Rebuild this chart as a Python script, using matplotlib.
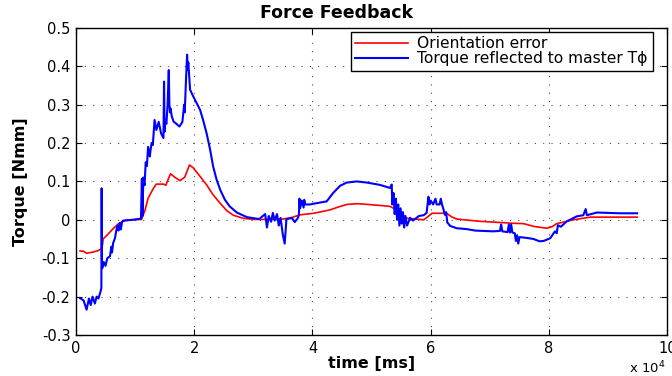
import matplotlib.pyplot as plt
from matplotlib.ticker import FuncFormatter

plt.rcParams['font.family'] = ['DejaVu Sans']

# (time [ms], torque)
red_pts = [(700, -0.081), (1300, -0.082), (1800, -0.087), (2900, -0.084),
           (3800, -0.080), (4300, -0.075), (4500, -0.065), (4600, -0.050),
           (5500, -0.036), (6300, -0.023), (7200, -0.010), (8300, -0.002),
           (9500, 0.0), (11100, 0.001), (11700, 0.026), (12200, 0.056),
           (13100, 0.082), (13600, 0.093), (14800, 0.093), (15200, 0.090),
           (15400, 0.098), (16000, 0.120), (16700, 0.111), (17600, 0.102),
           (18400, 0.111), (19200, 0.143), (19850, 0.135), (21000, 0.113),
           (22100, 0.091), (23200, 0.065), (24400, 0.043), (25500, 0.024),
           (26600, 0.012), (28300, 0.004), (30000, 0.001), (32000, 0.001),
           (35000, 0.002), (36500, 0.006), (37900, 0.013), (40200, 0.017),
           (43000, 0.026), (44500, 0.034), (45800, 0.040), (47500, 0.042),
           (48600, 0.041), (51000, 0.038), (53100, 0.035), (54200, 0.026),
           (55000, 0.015), (56000, 0.004), (58800, 0.0), (59500, 0.008),
           (60200, 0.017), (62700, 0.017), (63500, 0.008), (64400, 0.002),
           (68400, -0.004), (74000, -0.009), (75700, -0.010),
           (77400, -0.017), (79600, -0.022), (80500, -0.018), (81300, -0.010),
           (84100, 0.0), (87000, 0.007), (94900, 0.007)]

blue_pts = [(700, -0.204), (1300, -0.210), (1800, -0.234), (2200, -0.205),
            (2500, -0.222), (2800, -0.200), (3200, -0.218), (3500, -0.200),
            (3800, -0.205), (4100, -0.190), (4300, -0.178), (4350, 0.082),
            (4400, -0.100), (4450, -0.126), (4700, -0.110), (5000, -0.120),
            (5300, -0.100), (5750, -0.095), (5900, -0.080), (6000, -0.070),
            (6100, -0.085), (6300, -0.060), (6600, -0.048), (6800, -0.030),
            (7000, -0.015), (7200, -0.028), (7400, -0.008), (7600, -0.025),
            (7800, -0.005), (8000, -0.002), (9500, 0.0), (11000, 0.003),
            (11150, 0.107), (11250, 0.010), (11400, 0.110), (11600, 0.090),
            (11800, 0.150), (12000, 0.140), (12200, 0.190), (12500, 0.165),
            (12600, 0.180), (12800, 0.200), (13000, 0.195), (13300, 0.260),
            (13600, 0.234), (14000, 0.255), (14400, 0.225), (14800, 0.213),
            (14900, 0.360), (15000, 0.230), (15100, 0.260), (15300, 0.250),
            (15500, 0.300), (15700, 0.390), (15800, 0.300), (15900, 0.280),
            (16000, 0.290), (16200, 0.270), (16500, 0.256), (17000, 0.250),
            (17500, 0.243), (18000, 0.255), (18300, 0.300), (18400, 0.280),
            (18600, 0.360), (18800, 0.430), (18900, 0.390), (19000, 0.410),
            (19300, 0.339), (19850, 0.321), (21000, 0.286), (21500, 0.260),
            (22100, 0.225), (22700, 0.182), (23200, 0.139), (23800, 0.104),
            (24400, 0.078), (25200, 0.052), (26000, 0.035), (27200, 0.019),
            (28900, 0.007), (31000, 0.002), (32000, 0.015), (32300, -0.020),
            (32600, 0.010), (33000, -0.005), (33300, 0.018), (33600, -0.002),
            (34000, 0.015), (34300, -0.015), (34600, 0.005), (35000, -0.040),
            (35300, -0.062), (35600, 0.002), (36000, 0.003), (36500, 0.005),
            (37000, -0.006), (37500, 0.004), (37700, 0.012), (37800, 0.055),
            (37900, 0.030), (38200, 0.050), (38500, 0.032), (38600, 0.052),
            (38800, 0.040), (39600, 0.040), (40200, 0.042), (42400, 0.048),
            (43500, 0.070), (44700, 0.089), (45800, 0.097), (47500, 0.100),
            (49200, 0.097), (51400, 0.091), (53100, 0.083),
            (53400, 0.092), (53500, 0.040), (53700, 0.070), (53900, 0.015),
            (54100, 0.055), (54300, 0.000), (54500, 0.040), (54700, -0.015),
            (54900, 0.030), (55100, -0.010), (55300, 0.020), (55500, -0.020),
            (55700, 0.010), (56000, -0.015), (56500, 0.005), (57000, -0.002),
            (58000, 0.010), (58800, 0.012), (59300, 0.018), (59600, 0.060),
            (59800, 0.040), (60000, 0.050), (60400, 0.040), (60800, 0.055),
            (61000, 0.040), (61500, 0.040), (61700, 0.055), (61900, 0.040),
            (62100, 0.030), (62400, 0.013), (62600, 0.020), (62800, -0.007),
            (63300, -0.016), (64000, -0.020), (64400, -0.022), (66000, -0.024),
            (67500, -0.028), (70500, -0.030), (71700, -0.029), (71900, -0.012),
            (72100, -0.030), (73000, -0.032), (73200, -0.012), (73400, -0.033),
            (73600, -0.012), (73800, -0.033), (74200, -0.035), (74400, -0.055),
            (74600, -0.040), (74800, -0.062), (75000, -0.045), (76200, -0.047),
            (77400, -0.050), (78400, -0.056), (79100, -0.055), (80200, -0.048),
            (81000, -0.030), (81300, -0.035), (81500, -0.014), (82000, -0.018),
            (83000, -0.004), (84700, 0.009), (85800, 0.012), (86200, 0.028),
            (86400, 0.012), (88100, 0.019), (90000, 0.018), (92000, 0.017),
            (94900, 0.017)]

t_red, v_red = zip(*red_pts)
t_blue, v_blue = zip(*blue_pts)

x_ticks = [0, 20000, 40000, 60000, 80000, 100000]
y_ticks = [-0.3, -0.2, -0.1, 0, 0.1, 0.2, 0.3, 0.4, 0.5]

fig = plt.figure(figsize=(6.72, 3.76), dpi=100)
ax = fig.add_axes([0.113, 0.109, 0.880, 0.817])

ax.plot(t_red, v_red, color='red', lw=1.2, label='Orientation error')
ax.plot(t_blue, v_blue, color='blue', lw=1.5,
        label='Torque reflected to master T\u03d5')

ax.set_xlim(0, 100000)
ax.set_ylim(-0.3, 0.5)
ax.set_xticks(x_ticks)
ax.set_yticks(y_ticks)
ax.xaxis.set_major_formatter(FuncFormatter(lambda x, p: '%g' % (x / 1e4)))
ax.yaxis.set_major_formatter(FuncFormatter(lambda y, p: '%g' % round(y, 1)))
ax.tick_params(direction='in', top=True, right=True, labelsize=10.5,
               length=4, pad=4)
ax.grid(True, linestyle=(0, (1, 6.5)), color='0.3', lw=0.8)
for s in ax.spines.values():
    s.set_linewidth(1.0)

ax.set_title('Force Feedback', fontsize=12.5, fontweight='bold', x=0.44,
             pad=7)
ax.set_xlabel('time [ms]', fontsize=11.5, fontweight='bold', labelpad=0)
ax.set_ylabel('Torque [Nmm]', fontsize=11.5, fontweight='bold', labelpad=10)
fig.text(0.936, 0.008, 'x 10$^4$', fontsize=9.5)

leg = ax.legend(loc='upper right', bbox_to_anchor=(0.975, 0.988),
                fontsize=11.2, handlelength=3.4, handletextpad=0.6,
                fancybox=False, framealpha=1, edgecolor='black',
                borderpad=0.3, labelspacing=0.0, borderaxespad=0.0)
leg.get_frame().set_linewidth(1.0)

fig.savefig('out.png', dpi=100)
